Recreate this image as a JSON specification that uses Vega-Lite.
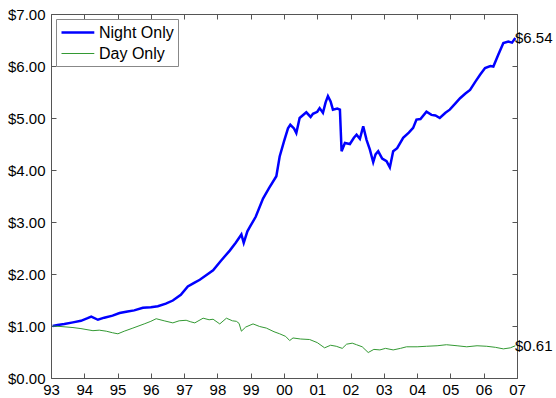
{
  "$schema": "https://vega.github.io/schema/vega-lite/v6.json",
  "width": 466,
  "height": 364,
  "autosize": "none",
  "padding": {"left": 51, "top": 14, "right": 39, "bottom": 20},
  "background": "white",
  "config": {
    "font": "Liberation Sans",
    "view": {"stroke": null},
    "axis": {
      "domainColor": "#555555",
      "tickColor": "#555555",
      "labelColor": "black",
      "labelFont": "Liberation Sans",
      "labelFontSize": 15,
      "grid": false,
      "title": null,
      "ticks": true,
      "tickSize": -5,
      "tickWidth": 1,
      "labelFlush": false
    }
  },
  "datasets": {
    "series": [
      {"t": 1993.05, "v": 1.00, "s": "Night Only"},
      {"t": 1993.2, "v": 1.02, "s": "Night Only"},
      {"t": 1993.4, "v": 1.04, "s": "Night Only"},
      {"t": 1993.66, "v": 1.07, "s": "Night Only"},
      {"t": 1993.9, "v": 1.10, "s": "Night Only"},
      {"t": 1994.1, "v": 1.15, "s": "Night Only"},
      {"t": 1994.21, "v": 1.18, "s": "Night Only"},
      {"t": 1994.41, "v": 1.12, "s": "Night Only"},
      {"t": 1994.6, "v": 1.16, "s": "Night Only"},
      {"t": 1994.85, "v": 1.20, "s": "Night Only"},
      {"t": 1995.06, "v": 1.25, "s": "Night Only"},
      {"t": 1995.3, "v": 1.28, "s": "Night Only"},
      {"t": 1995.5, "v": 1.30, "s": "Night Only"},
      {"t": 1995.76, "v": 1.35, "s": "Night Only"},
      {"t": 1996.0, "v": 1.36, "s": "Night Only"},
      {"t": 1996.21, "v": 1.38, "s": "Night Only"},
      {"t": 1996.45, "v": 1.43, "s": "Night Only"},
      {"t": 1996.66, "v": 1.49, "s": "Night Only"},
      {"t": 1996.9, "v": 1.60, "s": "Night Only"},
      {"t": 1997.11, "v": 1.76, "s": "Night Only"},
      {"t": 1997.3, "v": 1.83, "s": "Night Only"},
      {"t": 1997.47, "v": 1.89, "s": "Night Only"},
      {"t": 1997.65, "v": 1.97, "s": "Night Only"},
      {"t": 1997.87, "v": 2.07, "s": "Night Only"},
      {"t": 1998.1, "v": 2.25, "s": "Night Only"},
      {"t": 1998.37, "v": 2.45, "s": "Night Only"},
      {"t": 1998.55, "v": 2.60, "s": "Night Only"},
      {"t": 1998.72, "v": 2.76, "s": "Night Only"},
      {"t": 1998.79, "v": 2.60, "s": "Night Only"},
      {"t": 1998.9, "v": 2.82, "s": "Night Only"},
      {"t": 1998.97, "v": 2.90, "s": "Night Only"},
      {"t": 1999.15, "v": 3.10, "s": "Night Only"},
      {"t": 1999.37, "v": 3.45, "s": "Night Only"},
      {"t": 1999.55, "v": 3.65, "s": "Night Only"},
      {"t": 1999.77, "v": 3.88, "s": "Night Only"},
      {"t": 1999.87, "v": 4.26, "s": "Night Only"},
      {"t": 2000.0, "v": 4.55, "s": "Night Only"},
      {"t": 2000.12, "v": 4.80, "s": "Night Only"},
      {"t": 2000.19, "v": 4.87, "s": "Night Only"},
      {"t": 2000.3, "v": 4.80, "s": "Night Only"},
      {"t": 2000.37, "v": 4.71, "s": "Night Only"},
      {"t": 2000.47, "v": 5.00, "s": "Night Only"},
      {"t": 2000.67, "v": 5.11, "s": "Night Only"},
      {"t": 2000.8, "v": 5.02, "s": "Night Only"},
      {"t": 2000.87, "v": 5.08, "s": "Night Only"},
      {"t": 2001.0, "v": 5.12, "s": "Night Only"},
      {"t": 2001.07, "v": 5.19, "s": "Night Only"},
      {"t": 2001.17, "v": 5.10, "s": "Night Only"},
      {"t": 2001.25, "v": 5.30, "s": "Night Only"},
      {"t": 2001.32, "v": 5.42, "s": "Night Only"},
      {"t": 2001.4, "v": 5.32, "s": "Night Only"},
      {"t": 2001.47, "v": 5.16, "s": "Night Only"},
      {"t": 2001.6, "v": 5.18, "s": "Night Only"},
      {"t": 2001.68, "v": 5.16, "s": "Night Only"},
      {"t": 2001.73, "v": 4.36, "s": "Night Only"},
      {"t": 2001.83, "v": 4.52, "s": "Night Only"},
      {"t": 2001.98, "v": 4.50, "s": "Night Only"},
      {"t": 2002.1, "v": 4.62, "s": "Night Only"},
      {"t": 2002.18, "v": 4.68, "s": "Night Only"},
      {"t": 2002.28, "v": 4.60, "s": "Night Only"},
      {"t": 2002.38, "v": 4.84, "s": "Night Only"},
      {"t": 2002.48, "v": 4.58, "s": "Night Only"},
      {"t": 2002.58, "v": 4.39, "s": "Night Only"},
      {"t": 2002.68, "v": 4.15, "s": "Night Only"},
      {"t": 2002.75, "v": 4.30, "s": "Night Only"},
      {"t": 2002.83, "v": 4.36, "s": "Night Only"},
      {"t": 2002.95, "v": 4.22, "s": "Night Only"},
      {"t": 2003.08, "v": 4.17, "s": "Night Only"},
      {"t": 2003.18, "v": 4.05, "s": "Night Only"},
      {"t": 2003.28, "v": 4.36, "s": "Night Only"},
      {"t": 2003.4, "v": 4.42, "s": "Night Only"},
      {"t": 2003.58, "v": 4.62, "s": "Night Only"},
      {"t": 2003.75, "v": 4.72, "s": "Night Only"},
      {"t": 2003.88, "v": 4.81, "s": "Night Only"},
      {"t": 2003.98, "v": 4.97, "s": "Night Only"},
      {"t": 2004.1, "v": 4.98, "s": "Night Only"},
      {"t": 2004.28, "v": 5.12, "s": "Night Only"},
      {"t": 2004.43, "v": 5.06, "s": "Night Only"},
      {"t": 2004.55, "v": 5.05, "s": "Night Only"},
      {"t": 2004.68, "v": 5.00, "s": "Night Only"},
      {"t": 2004.85, "v": 5.10, "s": "Night Only"},
      {"t": 2004.98, "v": 5.16, "s": "Night Only"},
      {"t": 2005.15, "v": 5.28, "s": "Night Only"},
      {"t": 2005.29, "v": 5.38, "s": "Night Only"},
      {"t": 2005.45, "v": 5.47, "s": "Night Only"},
      {"t": 2005.59, "v": 5.54, "s": "Night Only"},
      {"t": 2005.75, "v": 5.70, "s": "Night Only"},
      {"t": 2005.89, "v": 5.83, "s": "Night Only"},
      {"t": 2006.04, "v": 5.96, "s": "Night Only"},
      {"t": 2006.2, "v": 6.00, "s": "Night Only"},
      {"t": 2006.29, "v": 5.99, "s": "Night Only"},
      {"t": 2006.44, "v": 6.22, "s": "Night Only"},
      {"t": 2006.59, "v": 6.44, "s": "Night Only"},
      {"t": 2006.74, "v": 6.47, "s": "Night Only"},
      {"t": 2006.85, "v": 6.45, "s": "Night Only"},
      {"t": 2006.95, "v": 6.54, "s": "Night Only"},
      {"t": 1993.05, "v": 1.00, "s": "Day Only"},
      {"t": 1993.3, "v": 0.99, "s": "Day Only"},
      {"t": 1993.66, "v": 0.97, "s": "Day Only"},
      {"t": 1993.9, "v": 0.95, "s": "Day Only"},
      {"t": 1994.26, "v": 0.91, "s": "Day Only"},
      {"t": 1994.45, "v": 0.92, "s": "Day Only"},
      {"t": 1994.66, "v": 0.90, "s": "Day Only"},
      {"t": 1994.85, "v": 0.87, "s": "Day Only"},
      {"t": 1995.01, "v": 0.85, "s": "Day Only"},
      {"t": 1995.2, "v": 0.90, "s": "Day Only"},
      {"t": 1995.46, "v": 0.96, "s": "Day Only"},
      {"t": 1995.8, "v": 1.04, "s": "Day Only"},
      {"t": 1996.0, "v": 1.09, "s": "Day Only"},
      {"t": 1996.16, "v": 1.14, "s": "Day Only"},
      {"t": 1996.4, "v": 1.10, "s": "Day Only"},
      {"t": 1996.66, "v": 1.06, "s": "Day Only"},
      {"t": 1996.85, "v": 1.10, "s": "Day Only"},
      {"t": 1997.06, "v": 1.11, "s": "Day Only"},
      {"t": 1997.2, "v": 1.08, "s": "Day Only"},
      {"t": 1997.32, "v": 1.06, "s": "Day Only"},
      {"t": 1997.57, "v": 1.15, "s": "Day Only"},
      {"t": 1997.75, "v": 1.12, "s": "Day Only"},
      {"t": 1997.87, "v": 1.13, "s": "Day Only"},
      {"t": 1998.07, "v": 1.04, "s": "Day Only"},
      {"t": 1998.27, "v": 1.15, "s": "Day Only"},
      {"t": 1998.45, "v": 1.10, "s": "Day Only"},
      {"t": 1998.57, "v": 1.09, "s": "Day Only"},
      {"t": 1998.65, "v": 1.05, "s": "Day Only"},
      {"t": 1998.72, "v": 0.90, "s": "Day Only"},
      {"t": 1998.85, "v": 0.98, "s": "Day Only"},
      {"t": 1999.07, "v": 1.04, "s": "Day Only"},
      {"t": 1999.27, "v": 0.99, "s": "Day Only"},
      {"t": 1999.47, "v": 0.96, "s": "Day Only"},
      {"t": 1999.7, "v": 0.89, "s": "Day Only"},
      {"t": 1999.87, "v": 0.85, "s": "Day Only"},
      {"t": 2000.05, "v": 0.80, "s": "Day Only"},
      {"t": 2000.17, "v": 0.72, "s": "Day Only"},
      {"t": 2000.27, "v": 0.77, "s": "Day Only"},
      {"t": 2000.5, "v": 0.75, "s": "Day Only"},
      {"t": 2000.77, "v": 0.74, "s": "Day Only"},
      {"t": 2001.0, "v": 0.68, "s": "Day Only"},
      {"t": 2001.22, "v": 0.58, "s": "Day Only"},
      {"t": 2001.4, "v": 0.63, "s": "Day Only"},
      {"t": 2001.57, "v": 0.61, "s": "Day Only"},
      {"t": 2001.75, "v": 0.57, "s": "Day Only"},
      {"t": 2001.88, "v": 0.65, "s": "Day Only"},
      {"t": 2002.05, "v": 0.67, "s": "Day Only"},
      {"t": 2002.18, "v": 0.64, "s": "Day Only"},
      {"t": 2002.35, "v": 0.60, "s": "Day Only"},
      {"t": 2002.53, "v": 0.49, "s": "Day Only"},
      {"t": 2002.7, "v": 0.55, "s": "Day Only"},
      {"t": 2002.88, "v": 0.54, "s": "Day Only"},
      {"t": 2003.05, "v": 0.57, "s": "Day Only"},
      {"t": 2003.28, "v": 0.54, "s": "Day Only"},
      {"t": 2003.5, "v": 0.57, "s": "Day Only"},
      {"t": 2003.68, "v": 0.60, "s": "Day Only"},
      {"t": 2004.0, "v": 0.60, "s": "Day Only"},
      {"t": 2004.28, "v": 0.61, "s": "Day Only"},
      {"t": 2004.6, "v": 0.62, "s": "Day Only"},
      {"t": 2004.88, "v": 0.64, "s": "Day Only"},
      {"t": 2005.2, "v": 0.62, "s": "Day Only"},
      {"t": 2005.49, "v": 0.60, "s": "Day Only"},
      {"t": 2005.8, "v": 0.62, "s": "Day Only"},
      {"t": 2006.09, "v": 0.61, "s": "Day Only"},
      {"t": 2006.35, "v": 0.59, "s": "Day Only"},
      {"t": 2006.59, "v": 0.56, "s": "Day Only"},
      {"t": 2006.8, "v": 0.58, "s": "Day Only"},
      {"t": 2006.95, "v": 0.62, "s": "Day Only"}
    ],
    "ends": [
      {"t": 2007, "v": 6.54, "label": "$6.54"},
      {"t": 2007, "v": 0.61, "label": "$0.61"}
    ]
  },
  "layer": [
    {
      "data": {"name": "series"},
      "mark": {"type": "line", "interpolate": "linear"},
      "encoding": {
        "x": {
          "field": "t", "type": "quantitative",
          "scale": {"domain": [1993, 2007], "nice": false, "zero": false},
          "axis": {
            "orient": "bottom",
            "values": [1993, 1994, 1995, 1996, 1997, 1998, 1999, 2000, 2001, 2002, 2003, 2004, 2005, 2006, 2007],
            "labelExpr": "slice(toString(datum.value), 2)",
            "labelPadding": 9
          }
        },
        "y": {
          "field": "v", "type": "quantitative",
          "scale": {"domain": [0, 7], "nice": false},
          "axis": {
            "orient": "left",
            "values": [0, 1, 2, 3, 4, 5, 6, 7],
            "format": "$.2f",
            "labelPadding": 11
          }
        },
        "color": {
          "field": "s", "type": "nominal",
          "scale": {"domain": ["Night Only", "Day Only"], "range": ["#0000ff", "#339933"]},
          "legend": {
            "title": null, "orient": "top-left", "offset": 5, "padding": 4,
            "strokeColor": "#888888", "fillColor": "white",
            "symbolType": "M-1,0H3.1", "symbolSize": 256, "labelOffset": 20,
            "labelFontSize": 16, "labelFont": "Liberation Sans", "labelColor": "black", "rowPadding": 4
          }
        },
        "strokeWidth": {
          "field": "s", "type": "nominal",
          "scale": {"domain": ["Night Only", "Day Only"], "range": [2.5, 1]},
          "legend": {
            "title": null, "orient": "top-left", "offset": 5, "padding": 4,
            "strokeColor": "#888888", "fillColor": "white",
            "symbolType": "M-1,0H3.1", "symbolSize": 256, "labelOffset": 20,
            "labelFontSize": 16, "labelFont": "Liberation Sans", "labelColor": "black", "rowPadding": 4
          }
        }
      }
    },
    {
      "data": {"name": "ends"},
      "mark": {"type": "text", "align": "left", "baseline": "middle", "dx": -2, "fontSize": 15, "font": "Liberation Sans", "color": "black"},
      "encoding": {
        "x": {
          "field": "t", "type": "quantitative",
          "scale": {"domain": [1993, 2007], "nice": false, "zero": false},
          "axis": {
            "orient": "top", "labels": false,
            "values": [1993, 1994, 1995, 1996, 1997, 1998, 1999, 2000, 2001, 2002, 2003, 2004, 2005, 2006, 2007]
          }
        },
        "y": {
          "field": "v", "type": "quantitative",
          "scale": {"domain": [0, 7], "nice": false},
          "axis": {"orient": "right", "labels": false, "values": [0, 1, 2, 3, 4, 5, 6, 7]}
        },
        "text": {"field": "label"}
      }
    }
  ],
  "resolve": {"axis": {"x": "independent", "y": "independent"}}
}
